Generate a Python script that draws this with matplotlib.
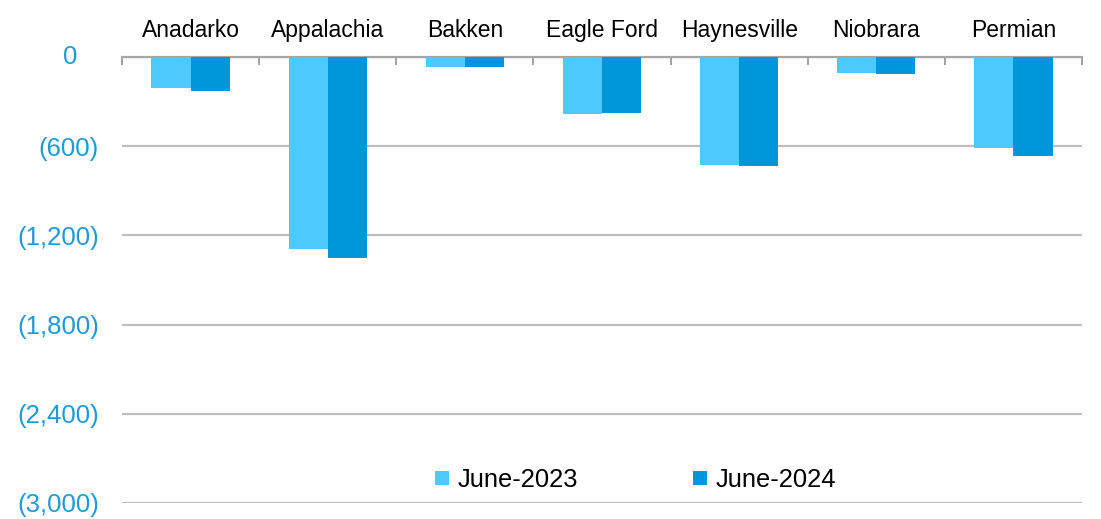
import matplotlib.pyplot as plt
import numpy as np
from matplotlib.ticker import FuncFormatter, FixedLocator
from matplotlib.transforms import ScaledTranslation

plt.rcParams['font.family'] = ['Liberation Sans', 'DejaVu Sans']

basins = ['Anadarko', 'Appalachia', 'Bakken', 'Eagle Ford', 'Haynesville', 'Niobrara', 'Permian']
june_2023 = [-208, -1290, -69, -380, -726, -107, -611]
june_2024 = [-226, -1353, -69, -376, -736, -116, -663]

c23 = '#4DC9FF'
c24 = '#0097DA'
tick_blue = '#1F9AD6'

fig = plt.figure(figsize=(11.01, 5.19), dpi=100)
ax = fig.add_axes([0.1108, 0.031, 0.872, 0.859])

x = np.arange(len(basins))
w = 0.285
ax.bar(x - w / 2, june_2023, w, color=c23, label='June-2023', zorder=3)
ax.bar(x + w / 2, june_2024, w, color=c24, label='June-2024', zorder=3)

ax.set_xlim(-0.5, len(basins) - 0.5)
ax.set_ylim(-3000, 0)
ax.set_yticks(np.arange(-3000, 1, 600))

# zero is written by hand below, excel puts it further left
def fmt(v, pos):
    if v == 0:
        return ''
    return '({:,.0f})'.format(abs(v))

ax.yaxis.set_major_formatter(FuncFormatter(fmt))
ax.tick_params(axis='y', length=0, labelsize=18.5, labelcolor=tick_blue, pad=16.5)
ax.text(0, 0, '0', ha='right', va='center', fontsize=18.5, color=tick_blue,
        transform=ax.get_yaxis_transform() + ScaledTranslation(-0.45, 0, fig.dpi_scale_trans))
ax.grid(axis='y', color='#BFBFBF', linewidth=1.6, zorder=0)

ax.xaxis.tick_top()
ax.set_xticks(x)
ax.set_xticklabels(basins)
ax.tick_params(axis='x', which='major', length=0, labelsize=16.5, pad=11)
ax.xaxis.set_minor_locator(FixedLocator(np.arange(-0.5, len(basins), 1)))
ax.tick_params(axis='x', which='minor', direction='in', length=6, color='#909090', width=1.2)

for s in ['left', 'right', 'bottom']:
    ax.spines[s].set_visible(False)
ax.spines['top'].set_color('#A6A6A6')
ax.spines['top'].set_linewidth(1.6)

ax.legend(loc='center', bbox_to_anchor=(0.577, 0.075), bbox_transform=fig.transFigure,
          ncol=2, frameon=False, fontsize=18.4, handlelength=0.55, handleheight=0.45,
          handletextpad=0.34, columnspacing=4.5, borderpad=0)

fig.savefig('out.png', dpi=100)
